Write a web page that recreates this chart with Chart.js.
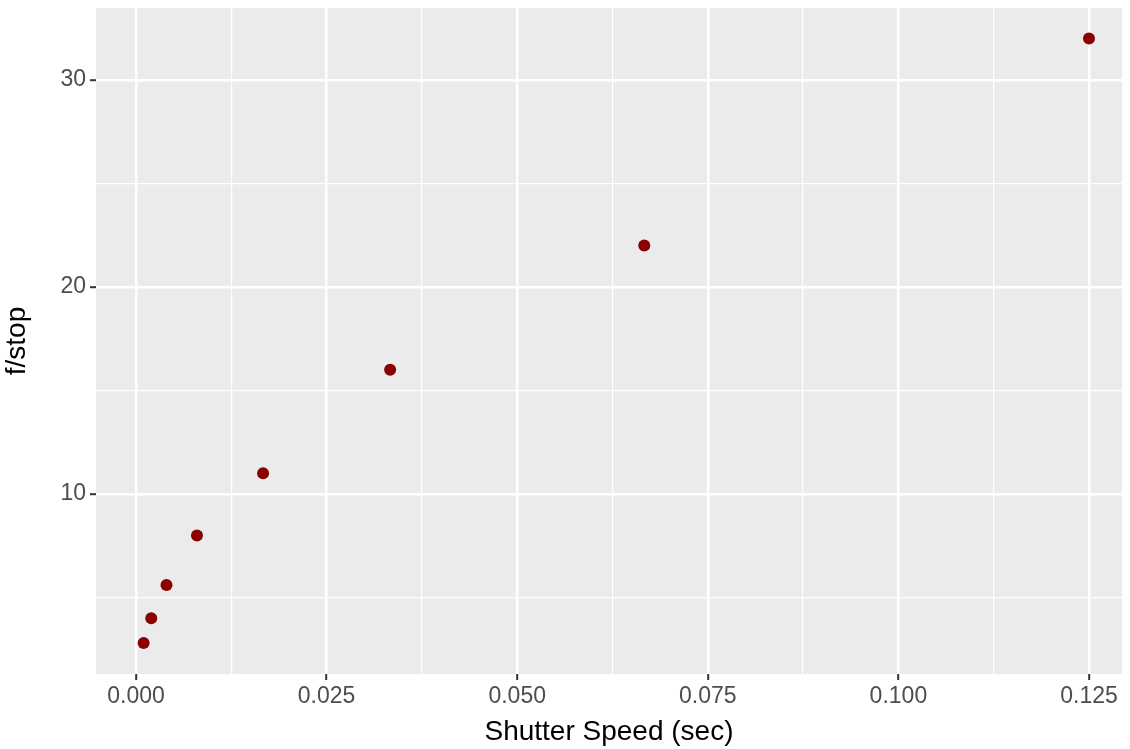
<!DOCTYPE html>
<html>
<head>
<meta charset="utf-8">
<script src="https://cdn.jsdelivr.net/npm/chart.js@4/dist/chart.umd.min.js"></script>
<style>
  html, body { margin: 0; padding: 0; background: #fff; }
  #wrap { width: 1130px; height: 749px; position: relative; }
</style>
</head>
<body>
<div id="wrap"><canvas id="fstopChart"></canvas></div>
<script>
// Dữ liệu: tốc độ chụp (giây) và khẩu độ
var shutterSpeed = [1 / 1000, 1 / 500, 1 / 250, 1 / 125, 1 / 60, 1 / 30, 1 / 15, 1 / 8];
var fStop = [2.8, 4, 5.6, 8, 11, 16, 22, 32];

// Vạch chia trục
var xMajorTicks = [0, 0.025, 0.05, 0.075, 0.1, 0.125];
var xMinorTicks = [0.0125, 0.0375, 0.0625, 0.0875, 0.1125];
var yMajorTicks = [10, 20, 30];
var yMinorTicks = [5, 15, 25];

function isMajor(list, v) {
  return list.some(function (m) { return Math.abs(m - v) < 1e-9; });
}

// Nền xám cho vùng vẽ giống ggplot
var panelBg = {
  id: "panelBg",
  beforeDraw: function (chart) {
    var a = chart.chartArea, c = chart.ctx;
    c.save();
    c.fillStyle = "#EBEBEB";
    c.fillRect(a.left, a.top, a.right - a.left, a.bottom - a.top);
    c.restore();
  },
};

Chart.defaults.font.family = "'Liberation Sans', Arial, sans-serif";

var ctx = document.getElementById("fstopChart");
new Chart(ctx, {
  type: "scatter",
  data: {
    datasets: [
      {
        label: "f/stop",
        data: shutterSpeed.map(function (s, i) { return { x: s, y: fStop[i] }; }),
        backgroundColor: "#8B0000",
        borderColor: "#8B0000",
        borderWidth: 0,
        pointRadius: 6,
        pointHoverRadius: 6,
      },
    ],
  },
  options: {
    responsive: true,
    maintainAspectRatio: false,
    animation: false,
    layout: { padding: { top: 8, right: 8, left: 0, bottom: 0 } },
    plugins: { legend: { display: false }, tooltip: { enabled: false } },
    scales: {
      x: {
        type: "linear",
        min: -0.005247,
        max: 0.12933,
        afterBuildTicks: function (scale) {
          scale.ticks = xMajorTicks.concat(xMinorTicks)
            .sort(function (a, b) { return a - b; })
            .map(function (v) { return { value: v }; });
        },
        afterFit: function (scale) {
          scale.height = 75;
          scale.paddingLeft = 0;
          scale.paddingRight = 0;
        },
        border: { display: false },
        grid: {
          color: "#FFFFFF",
          lineWidth: function (c) { return isMajor(xMajorTicks, c.tick.value) ? 2.4 : 1.2; },
          drawTicks: true,
          tickLength: 6,
          tickWidth: 2,
          tickColor: function (c) { return isMajor(xMajorTicks, c.tick.value) ? "#333333" : "rgba(0,0,0,0)"; },
        },
        ticks: {
          autoSkip: false,
          maxRotation: 0,
          padding: 3,
          color: "#4D4D4D",
          font: { size: 23 },
          callback: function (v) { return isMajor(xMajorTicks, v) ? v.toFixed(3) : ""; },
        },
        title: {
          display: true,
          text: "Shutter Speed (sec)",
          color: "#000000",
          font: { size: 28 },
          padding: { top: 0, bottom: 0 },
        },
      },
      y: {
        type: "linear",
        min: 1.304,
        max: 33.478,
        afterBuildTicks: function (scale) {
          scale.ticks = yMajorTicks.concat(yMinorTicks)
            .sort(function (a, b) { return a - b; })
            .map(function (v) { return { value: v }; });
        },
        afterFit: function (scale) {
          scale.width = 96;
          scale.paddingTop = 0;
          scale.paddingBottom = 0;
        },
        border: { display: false },
        grid: {
          color: "#FFFFFF",
          lineWidth: function (c) { return isMajor(yMajorTicks, c.tick.value) ? 2.4 : 1.2; },
          drawTicks: true,
          tickLength: 6,
          tickWidth: 2,
          tickColor: function (c) { return isMajor(yMajorTicks, c.tick.value) ? "#333333" : "rgba(0,0,0,0)"; },
        },
        ticks: {
          autoSkip: false,
          padding: 4,
          color: "#4D4D4D",
          font: { size: 23 },
          callback: function (v) { return isMajor(yMajorTicks, v) ? String(v) : ""; },
        },
        title: {
          display: true,
          text: "f/stop",
          color: "#000000",
          font: { size: 28 },
          padding: { top: 0, bottom: 6 },
        },
      },
    },
  },
  plugins: [panelBg],
});
</script>
</body>
</html>
